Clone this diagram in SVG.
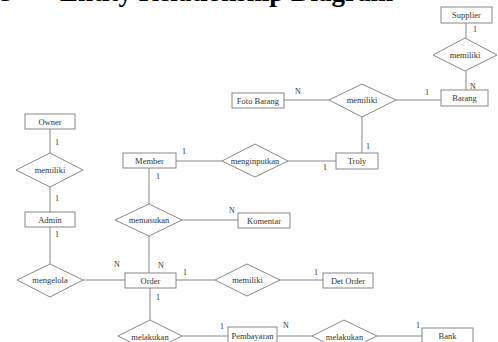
<svg xmlns="http://www.w3.org/2000/svg" width="498" height="342" viewBox="0 0 498 342">
<style>
.e{fill:#fff;stroke:#888;stroke-width:1}
.r{fill:#fff;stroke:#888;stroke-width:1}
.t{font-family:"Liberation Serif",serif;font-size:8.5px;fill:#333;text-anchor:middle}
.c{font-family:"Liberation Serif",serif;font-size:8px;fill:#333}
.l{stroke:#888;stroke-width:1;fill:none}
.h{font-family:"Liberation Serif",serif;font-size:27px;font-weight:bold;fill:#000}
</style>
<rect width="498" height="342" fill="#fff"/>
<text class="h" x="0" y="1">3</text>
<text class="h" x="60" y="1">Entity Relationship Diagram</text>
<g id="connectors">
<path class="l" d="M466 23V38M466 71V90"/>
<path class="l" d="M284 100H329M396 100H441"/>
<path class="l" d="M362 117V153"/>
<path class="l" d="M176 161H222M288 161H336"/>
<path class="l" d="M50 129V153M50 187V212"/>
<path class="l" d="M149 168V204M149 236V273M182 220H238"/>
<path class="l" d="M50 227V264M83 280H125"/>
<path class="l" d="M176 280H215M280 280H323"/>
<path class="l" d="M150 288V320M182 336H228M277 336H312M377 336H422"/>
<text class="c" x="473" y="32">1</text>
<text class="c" x="470" y="89">N</text>
<text class="c" x="425" y="95">1</text>
<text class="c" x="295" y="94">N</text>
<text class="c" x="366" y="149">1</text>
<text class="c" x="323" y="170">1</text>
<text class="c" x="182" y="154">1</text>
<text class="c" x="156" y="179">1</text>
<text class="c" x="55" y="145">1</text>
<text class="c" x="55" y="201">1</text>
<text class="c" x="55" y="237">1</text>
<text class="c" x="229" y="213">N</text>
<text class="c" x="158" y="268">N</text>
<text class="c" x="114" y="267">N</text>
<text class="c" x="183" y="275">1</text>
<text class="c" x="314" y="275">1</text>
<text class="c" x="156" y="300">1</text>
<text class="c" x="220" y="329">1</text>
<text class="c" x="283" y="328">N</text>
<text class="c" x="416" y="328">1</text>
</g>
<g id="supplier"><rect class="r" x="441" y="7" width="51" height="16"/><text class="t" x="466.5" y="18">Supplier</text></g>
<g id="memiliki-supplier"><polygon class="e" points="433,55 465,38 497,55 465,71"/><text class="t" x="465" y="58">memiliki</text></g>
<g id="barang"><rect class="r" x="441" y="90" width="47" height="16"/><text class="t" x="464.5" y="101">Barang</text></g>
<g id="foto-barang"><rect class="r" x="232" y="93" width="52" height="15"/><text class="t" x="258" y="103.5">Foto Barang</text></g>
<g id="memiliki-barang"><polygon class="e" points="329,100 362,84 396,100 362,117"/><text class="t" x="362" y="103">memiliki</text></g>
<g id="troly"><rect class="r" x="336" y="153" width="42" height="16"/><text class="t" x="357" y="164">Troly</text></g>
<g id="menginputkan"><polygon class="e" points="222,161 255,144 288,161 255,177"/><text class="t" x="255" y="164">menginputkan</text></g>
<g id="member"><rect class="r" x="123" y="153" width="53" height="15"/><text class="t" x="149.5" y="163.5">Member</text></g>
<g id="owner"><rect class="r" x="25" y="114" width="50" height="15"/><text class="t" x="50" y="124.5">Owner</text></g>
<g id="memiliki-owner"><polygon class="e" points="16,170 50,153 83,170 50,187"/><text class="t" x="50" y="173">memiliki</text></g>
<g id="admin"><rect class="r" x="25" y="212" width="50" height="15"/><text class="t" x="50" y="222.5">Admin</text></g>
<g id="memasukan"><polygon class="e" points="115,220 149,204 182,220 149,236"/><text class="t" x="149" y="223">memasukan</text></g>
<g id="komentar"><rect class="r" x="238" y="213" width="52" height="15"/><text class="t" x="264" y="223.5">Komentar</text></g>
<g id="mengelola"><polygon class="e" points="17,280 50,264 83,280 50,297"/><text class="t" x="50" y="283">mengelola</text></g>
<g id="order"><rect class="r" x="125" y="273" width="51" height="15"/><text class="t" x="150.5" y="283.5">Order</text></g>
<g id="memiliki-order"><polygon class="e" points="215,280 247,264 280,280 247,296"/><text class="t" x="247.5" y="283">memiliki</text></g>
<g id="det-order"><rect class="r" x="323" y="273" width="50" height="15"/><text class="t" x="348" y="283.5">Det Order</text></g>
<g id="melakukan-pembayaran"><polygon class="e" points="118,336 150,320 182,336 150,352"/><text class="t" x="150" y="339.5">melakukan</text></g>
<g id="pembayaran"><rect class="r" x="228" y="327" width="49" height="16"/><text class="t" x="252.5" y="338.5">Pembayaran</text></g>
<g id="melakukan-bank"><polygon class="e" points="312,336 344,320 377,336 344,352"/><text class="t" x="344.5" y="339.5">melakukan</text></g>
<g id="bank"><rect class="r" x="422" y="328" width="51" height="16"/><text class="t" x="447.5" y="339">Bank</text></g>
</svg>
